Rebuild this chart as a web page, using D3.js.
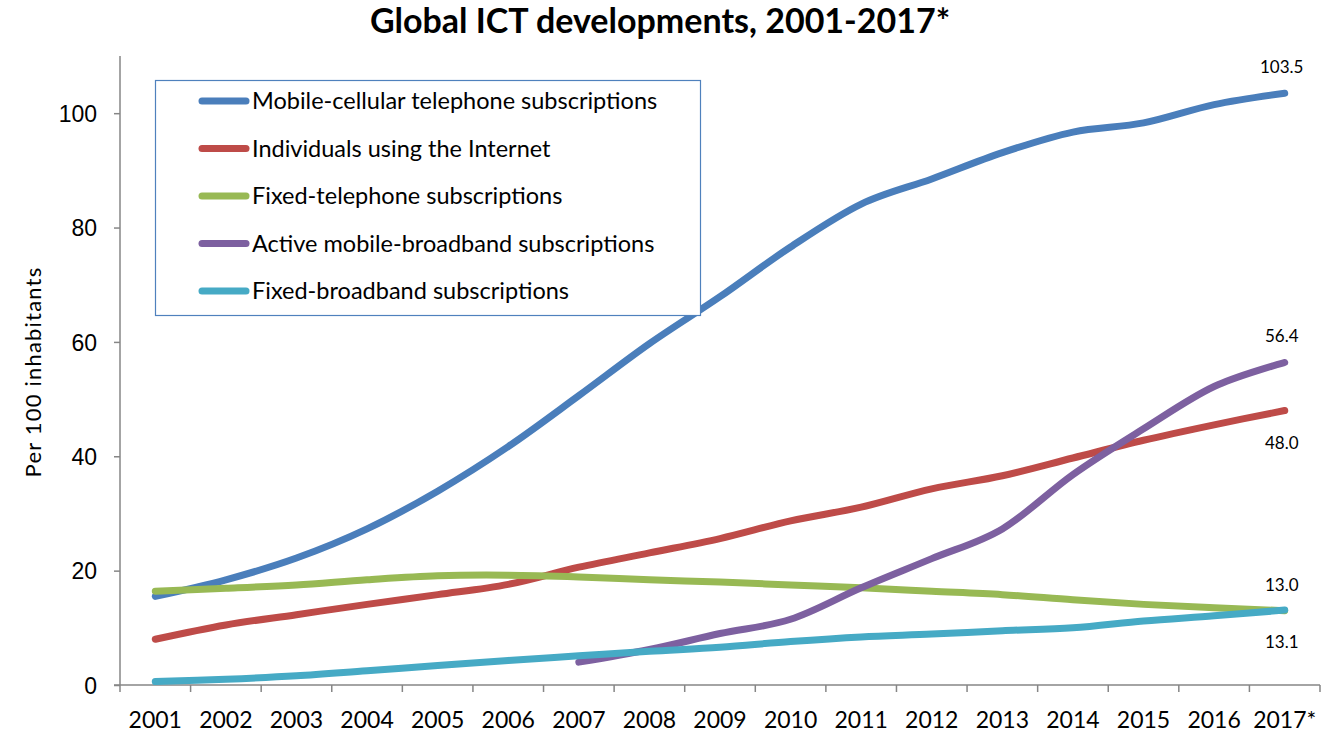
<!DOCTYPE html>
<html>
<head>
<meta charset="utf-8">
<script src="https://cdn.jsdelivr.net/npm/d3@7"></script>
<style>
  body { margin: 0; background: #fff; }
  svg { display: block; font-family: Lato, 'Open Sans', sans-serif; }
  .axis path, .axis line { stroke: #868686; stroke-width: 1.5; }
  .axis text { fill: #000; font-size: 23px; }
</style>
</head>
<body>
<svg id="chart" width="1340" height="733"></svg>
<script>
// categories
const years = ['2001', '2002', '2003', '2004', '2005', '2006', '2007', '2008', '2009',
  '2010', '2011', '2012', '2013', '2014', '2015', '2016', '2017*'];

// series values (per 100 inhabitants)
const mobileCellular = [15.5, 18.4, 22.2, 27.3, 33.9, 41.7, 50.6, 59.7, 67.9,
  76.6, 84.1, 88.5, 93.1, 96.7, 98.3, 101.5, 103.5];
const internetUsers = [8.0, 10.5, 12.3, 14.1, 15.8, 17.6, 20.6, 23.1, 25.6,
  28.7, 31.1, 34.3, 36.6, 39.7, 42.8, 45.5, 48.0];
const fixedTelephone = [16.4, 16.9, 17.5, 18.4, 19.1, 19.2, 18.9, 18.4, 18.0,
  17.5, 17.0, 16.4, 15.8, 14.9, 14.1, 13.5, 13.0];
const mobileBroadband = [null, null, null, null, null, null, 4.0, 6.2, 9.0,
  11.5, 17.0, 22.1, 27.3, 36.8, 44.8, 52.2, 56.4];
const fixedBroadband = [0.6, 1.0, 1.6, 2.5, 3.4, 4.3, 5.1, 5.9, 6.6,
  7.6, 8.4, 8.9, 9.5, 10.0, 11.2, 12.1, 13.1];

const seriesNames = [
  'Mobile-cellular telephone subscriptions',
  'Individuals using the Internet',
  'Fixed-telephone subscriptions',
  'Active mobile-broadband subscriptions',
  'Fixed-broadband subscriptions'
];
const seriesValues = [mobileCellular, internetUsers, fixedTelephone, mobileBroadband, fixedBroadband];
const colors = ['#4a7ebb', '#be4b48', '#98b954', '#7d60a0', '#46aac5'];

// end-of-line labels, with side (above / below the last point)
const endLabels = ['103.5', '48.0', '13.0', '56.4', '13.1'];
const endSides = ['above', 'below', 'above', 'above', 'below'];

const yTicks = [0, 20, 40, 60, 80, 100];

const svg = d3.select('#chart');

const plot = { left: 120, right: 1320, top: 56, bottom: 685 };

const x = d3.scaleBand().domain(years).range([plot.left, plot.right]);
const y = d3.scaleLinear().domain([0, 110]).range([plot.bottom, plot.top]);
const cx = (i) => x(years[i]) + x.bandwidth() / 2;

// title
svg.append('text')
  .attr('x', 660)
  .attr('y', 33)
  .attr('text-anchor', 'middle')
  .attr('font-size', 34)
  .attr('font-weight', 'bold')
  .text('Global ICT developments, 2001-2017*');

// y axis label
svg.append('text')
  .attr('transform', 'translate(41,372) rotate(-90)')
  .attr('text-anchor', 'middle')
  .attr('font-size', 22)
  .attr('letter-spacing', 1.2)
  .text('Per 100 inhabitants');

// y axis
const yAxis = svg.append('g')
  .attr('class', 'axis')
  .attr('transform', `translate(${plot.left},0)`)
  .call(d3.axisLeft(y).tickValues(yTicks).tickSize(6).tickSizeOuter(0).tickPadding(17));
yAxis.select('.domain').attr('d', `M0,${plot.top}V${plot.bottom}`);
yAxis.selectAll('text').attr('dy', '0.36em');

// x axis (ticks at category boundaries)
const xAxis = svg.append('g')
  .attr('class', 'axis')
  .attr('transform', `translate(0,${plot.bottom})`);
xAxis.append('line')
  .attr('x1', plot.left - 6).attr('x2', plot.right)
  .attr('y1', 0).attr('y2', 0);
xAxis.selectAll('.tick-mark')
  .data(years.concat(['end']))
  .enter()
  .append('line')
  .attr('x1', (d, i) => plot.left + i * x.step())
  .attr('x2', (d, i) => plot.left + i * x.step())
  .attr('y1', 0)
  .attr('y2', 7);
xAxis.selectAll('.tick-label')
  .data(years)
  .enter()
  .append('text')
  .attr('x', (d) => x(d) + x.bandwidth() / 2)
  .attr('y', 43)
  .attr('text-anchor', 'middle')
  .text((d) => d);

// lines
const line = d3.line()
  .defined((d) => d != null)
  .x((d, i) => cx(i))
  .y((d) => y(d))
  .curve(d3.curveCardinal.tension(0));

seriesValues.forEach((vals, k) => {
  svg.append('path')
    .datum(vals)
    .attr('fill', 'none')
    .attr('stroke', colors[k])
    .attr('stroke-width', 7)
    .attr('stroke-linecap', 'round')
    .attr('stroke-linejoin', 'round')
    .attr('d', line);
});

// end labels
seriesValues.forEach((vals, k) => {
  const last = vals.length - 1;
  svg.append('text')
    .attr('x', cx(last) - 3)
    .attr('y', y(vals[last]) + (endSides[k] === 'above' ? -20 : 38))
    .attr('text-anchor', 'middle')
    .attr('font-size', 17)
    .text(endLabels[k]);
});

// legend
const legend = svg.append('g');
legend.append('rect')
  .attr('x', 155.5).attr('y', 80.5)
  .attr('width', 545).attr('height', 235)
  .attr('fill', '#fff')
  .attr('stroke', '#4f81bd')
  .attr('stroke-width', 1.2);

seriesNames.forEach((name, k) => {
  const ly = 101 + k * 47.5;
  legend.append('line')
    .attr('x1', 202).attr('x2', 246)
    .attr('y1', ly).attr('y2', ly)
    .attr('stroke', colors[k])
    .attr('stroke-width', 7)
    .attr('stroke-linecap', 'round');
  legend.append('text')
    .attr('x', 252)
    .attr('y', ly)
    .attr('dy', '0.35em')
    .attr('font-size', 23.5)
    .text(name);
});
</script>
</body>
</html>
